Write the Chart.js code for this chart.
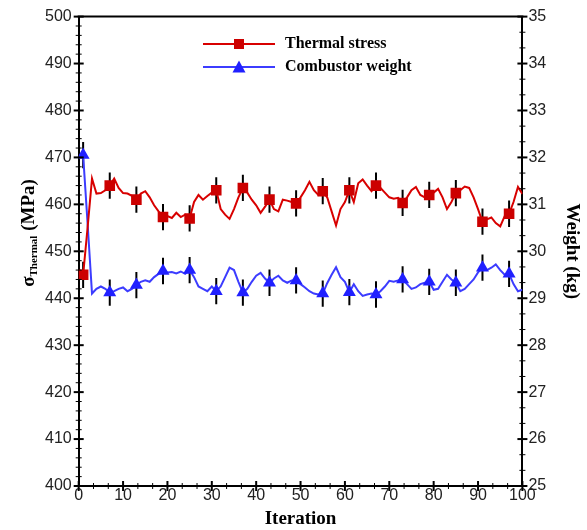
<!DOCTYPE html>
<html><head><meta charset="utf-8">
<script src="https://cdn.jsdelivr.net/npm/chart.js@4.4.1/dist/chart.umd.min.js"></script>
<style>html,body{margin:0;padding:0;background:#fff}canvas{display:block}</style>
</head><body>
<canvas id="c" width="587" height="530"></canvas>
<script>
const iterations = [1,2,3,4,5,6,7,8,9,10,11,12,13,14,15,16,17,18,19,20,21,22,23,24,25,26,27,28,29,30,31,32,33,34,35,36,37,38,39,40,41,42,43,44,45,46,47,48,49,50,51,52,53,54,55,56,57,58,59,60,61,62,63,64,65,66,67,68,69,70,71,72,73,74,75,76,77,78,79,80,81,82,83,84,85,86,87,88,89,90,91,92,93,94,95,96,97,98,99,100];
const thermalStress = [445, 455, 465.5, 462.3, 462.4, 463, 464, 465.5, 463.5, 462.4,
 462.3, 461.8, 461, 462.3, 462.8, 461.5, 459.8, 458.5, 457.3, 457.5,
 457.1, 458.2, 457.3, 457.8, 457, 460.5, 462, 461, 461.8, 462.5,
 463, 459, 457.8, 456.9, 459, 461.5, 463.5, 462.5, 461, 459.8,
 458.2, 459.5, 461, 459, 458.5, 461, 460.8, 460.5, 460.2, 461.5,
 463, 464.8, 463, 462, 462.8, 461.5, 458.5, 455.5, 459, 460.5,
 463, 460.5, 464.5, 465.3, 464, 462.8, 464, 463.5, 462.5, 461.5,
 461.2, 461.4, 460.3, 461.5, 463, 463.7, 462, 461.5, 462, 462.5,
 463.3, 461.5, 459, 460.5, 462.4, 463, 463.8, 463.5, 461.5, 459,
 456.3, 456.8, 457.2, 456, 455.3, 457.5, 458, 460.5, 463.7, 462.2];
const combustorWeight = [32.05, 30.6, 29.1, 29.2, 29.25, 29.2, 29.12, 29.15, 29.2, 29.23,
 29.15, 29.2, 29.28, 29.35, 29.38, 29.35, 29.45, 29.52, 29.58, 29.55,
 29.56, 29.53, 29.57, 29.52, 29.6, 29.45, 29.25, 29.2, 29.15, 29.25,
 29.15, 29.25, 29.45, 29.65, 29.6, 29.35, 29.12, 29.2, 29.35, 29.48,
 29.54, 29.42, 29.33, 29.42, 29.48, 29.38, 29.33, 29.38, 29.38, 29.3,
 29.23, 29.15, 29.1, 29.08, 29.1, 29.32, 29.5, 29.66, 29.45, 29.35,
 29.13, 29.3, 29.15, 29.05, 29.08, 29.1, 29.08, 29.15, 29.25, 29.37,
 29.35, 29.38, 29.4, 29.3, 29.2, 29.23, 29.3, 29.33, 29.35, 29.18,
 29.2, 29.35, 29.5, 29.4, 29.33, 29.15, 29.2, 29.3, 29.4, 29.55,
 29.65, 29.6, 29.65, 29.72, 29.6, 29.5, 29.52, 29.3, 29.15, 29.18];
const markerIterations = [1,7,13,19,25,31,37,43,49,55,61,67,73,79,85,91,97];
const stressError = 2.8;
const weightError = 0.28;
const xTickValues = [0,10,20,30,40,50,60,70,80,90,100];
const stressTickValues = [400,410,420,430,440,450,460,470,480,490,500];
const weightTickValues = [25,26,27,28,29,30,31,32,33,34,35];
const seriesNames = ['Thermal stress', 'Combustor weight'];

const RED_LINE = '#d80000', RED_MARK = '#cc0000';
const BLUE_LINE = '#3c3cff', BLUE_MARK = '#2020ff';

function pts(values){ return iterations.map((x,i)=>({x:x, y:values[i]})); }
function errorBars(values, err){
  const out = [];
  markerIterations.forEach(it=>{
    const v = values[iterations.indexOf(it)];
    out.push({x:it, y:v-err}, {x:it, y:v+err}, {x:it, y:null});
  });
  return out;
}
function markerRadius(r){ return ctx => markerIterations.includes(iterations[ctx.dataIndex]) ? r : 0; }

function legendIcon(lineColor, markColor, shape){
  const c = document.createElement('canvas'); c.width = 72; c.height = 16;
  const g = c.getContext('2d');
  g.strokeStyle = lineColor; g.lineWidth = 2;
  g.beginPath(); g.moveTo(0,8); g.lineTo(72,8); g.stroke();
  g.fillStyle = markColor;
  if (shape === 'rect') { g.fillRect(31,3,10,10); }
  else { g.beginPath(); g.moveTo(36,1.5); g.lineTo(42.5,13.5); g.lineTo(29.5,13.5); g.closePath(); g.fill(); }
  return c;
}
const iconRed = legendIcon(RED_LINE, RED_MARK, 'rect');
const iconBlue = legendIcon(BLUE_LINE, BLUE_MARK, 'triangle');

function axisRange(vals){ return {min: vals[0], max: vals[vals.length-1], stepSize: vals[1]-vals[0]}; }
const xr = axisRange(xTickValues), yr = axisRange(stressTickValues), y1r = axisRange(weightTickValues);

const framePlugin = {
  id: 'frame',
  afterDraw(chart){
    const {ctx, chartArea:a, scales} = chart;
    ctx.save();
    ctx.strokeStyle = '#000';
    ctx.lineWidth = 2;
    ctx.beginPath(); ctx.moveTo(a.left-1, a.top); ctx.lineTo(a.right+1, a.top); ctx.stroke();
    function doTicks(scale, vals, minorCount, seg){
      const step = vals[1]-vals[0];
      vals.forEach((v, i)=>{
        const p = scale.getPixelForValue(v);
        ctx.lineWidth = 2; ctx.beginPath(); seg(p, 5); ctx.stroke();
        if (i < vals.length-1) {
          for (let k=1;k<=minorCount;k++){
            const q = scale.getPixelForValue(v + step*k/(minorCount+1));
            ctx.lineWidth = 1; ctx.beginPath(); seg(q, 3); ctx.stroke();
          }
        }
      });
    }
    doTicks(scales.x, xTickValues, 2, (p,l)=>{ ctx.moveTo(p, a.bottom-l); ctx.lineTo(p, a.bottom+l); });
    doTicks(scales.y, stressTickValues, 4, (p,l)=>{ ctx.moveTo(a.left-l, p); ctx.lineTo(a.left+l, p); });
    doTicks(scales.y1, weightTickValues, 2, (p,l)=>{ ctx.moveTo(a.right-l, p); ctx.lineTo(a.right+l, p); });
    // left axis title with subscript
    ctx.fillStyle = '#000';
    ctx.translate(28, 233);
    ctx.rotate(-Math.PI/2);
    ctx.textBaseline = 'alphabetic';
    const parts = [
      {t:'\u03C3', f:'bold 19px "Liberation Serif"', dy:6},
      {t:'Thermal', f:'bold 11px "Liberation Serif"', dy:9},
      {t:' (MPa)', f:'bold 19px "Liberation Serif"', dy:6}
    ];
    let total = 0;
    parts.forEach(p=>{ ctx.font = p.f; p.w = ctx.measureText(p.t).width; total += p.w; });
    let x = -total/2;
    parts.forEach(p=>{ ctx.font = p.f; ctx.fillText(p.t, x, p.dy); x += p.w; });
    ctx.restore();
  }
};

const legendPlacer = {
  id: 'legendPlacer',
  afterLayout(chart){
    const lg = chart.legend; if (!lg) return;
    lg.left = 194; lg.top = 29; lg.bottom = chart.chartArea.bottom;
  }
};

Chart.defaults.font.family = '"Liberation Sans", Arial, sans-serif';
Chart.defaults.font.size = 16;
Chart.defaults.color = '#222';

new Chart(document.getElementById('c'), {
  type: 'line',
  data: {
    datasets: [
      { label: seriesNames[0], data: pts(thermalStress), yAxisID: 'y', borderColor: RED_LINE, borderWidth: 2,
        pointStyle: 'rect', pointRadius: markerRadius(7.5), pointHoverRadius: markerRadius(7.5),
        pointBackgroundColor: RED_MARK, pointBorderColor: RED_MARK, pointBorderWidth: 0, tension: 0, order: 0 },
      { label: seriesNames[1], data: pts(combustorWeight), yAxisID: 'y1', borderColor: BLUE_LINE, borderWidth: 2,
        pointStyle: 'triangle', pointRadius: markerRadius(7.5), pointHoverRadius: markerRadius(7.5),
        pointBackgroundColor: BLUE_MARK, pointBorderColor: BLUE_MARK, pointBorderWidth: 0, tension: 0, order: 1 },
      { label: 'stress error', data: errorBars(thermalStress, stressError), yAxisID: 'y', borderColor: '#000',
        borderWidth: 2, pointRadius: 0, spanGaps: false, order: 2 },
      { label: 'weight error', data: errorBars(combustorWeight, weightError), yAxisID: 'y1', borderColor: '#000',
        borderWidth: 2, pointRadius: 0, spanGaps: false, order: 3 }
    ]
  },
  options: {
    responsive: false,
    animation: false,
    events: [],
    layout: { padding: { left: 38, top: 15, right: 0, bottom: 0 } },
    plugins: {
      tooltip: { enabled: false },
      legend: {
        position: 'chartArea',
        align: 'start',
        labels: {
          usePointStyle: true,
          pointStyleWidth: 76,
          boxHeight: 16,
          padding: 7,
          color: '#000',
          font: { family: '"Liberation Serif", serif', weight: 'bold', size: 16 },
          generateLabels: () => [
            { text: seriesNames[0], pointStyle: iconRed, fillStyle: RED_MARK, strokeStyle: RED_MARK, lineWidth: 0, hidden: false, datasetIndex: 0, fontColor: '#000' },
            { text: seriesNames[1], pointStyle: iconBlue, fillStyle: BLUE_MARK, strokeStyle: BLUE_MARK, lineWidth: 0, hidden: false, datasetIndex: 1, fontColor: '#000' }
          ]
        }
      }
    },
    scales: {
      x: {
        type: 'linear', position: 'bottom', min: xr.min, max: xr.max,
        ticks: { stepSize: xr.stepSize, padding: 0, maxRotation: 0, autoSkip: false },
        grid: { display: false, drawTicks: false },
        border: { display: true, color: '#000', width: 2 },
        title: { display: true, text: 'Iteration', color: '#000',
          font: { family: '"Liberation Serif", serif', weight: 'bold', size: 19 }, padding: { top: 2, bottom: 0 } }
      },
      y: {
        type: 'linear', position: 'left', min: yr.min, max: yr.max,
        ticks: { stepSize: yr.stepSize, padding: 7, autoSkip: false },
        grid: { display: false, drawTicks: false },
        border: { display: true, color: '#000', width: 2 }
      },
      y1: {
        type: 'linear', position: 'right', min: y1r.min, max: y1r.max,
        ticks: { stepSize: y1r.stepSize, padding: 6, autoSkip: false },
        grid: { display: false, drawTicks: false },
        border: { display: true, color: '#000', width: 2 },
        title: { display: true, text: 'Weight (kg)', color: '#000',
          font: { family: '"Liberation Serif", serif', weight: 'bold', size: 19 }, padding: { top: 4, bottom: 8 } }
      }
    }
  },
  plugins: [framePlugin, legendPlacer]
});
</script>
</body></html>
